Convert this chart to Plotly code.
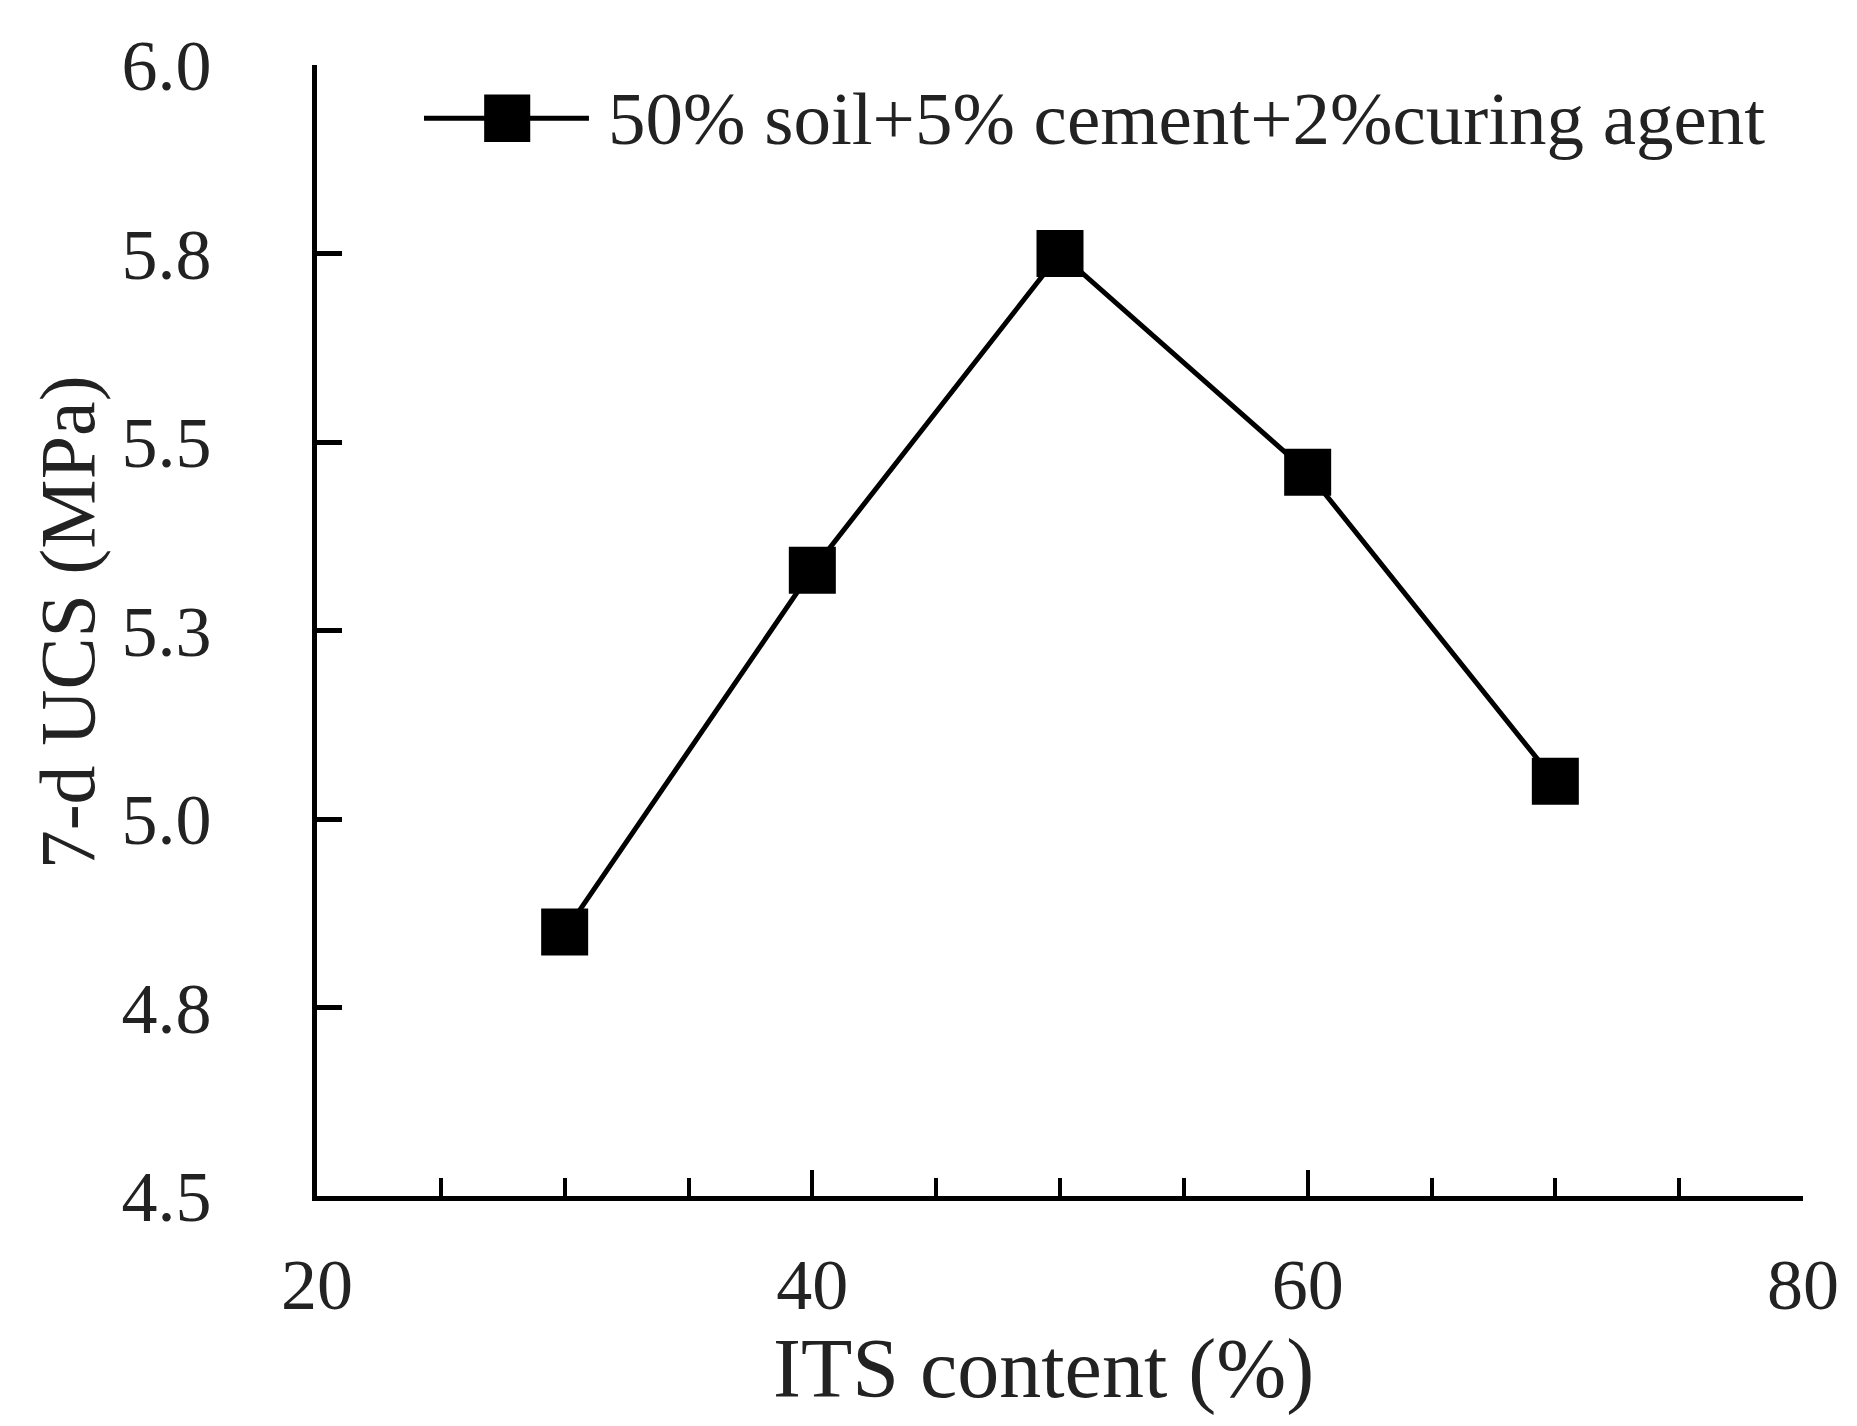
import plotly.graph_objects as go

# ITS content (%) vs 7-day UCS (MPa)
its_content = [30, 40, 50, 60, 70]
ucs_7d = [4.85, 5.33, 5.75, 5.46, 5.05]
series_name = "50% soil+5% cement+2%curing agent"

y_tickvals = [4.5, 4.75, 5.0, 5.25, 5.5, 5.75, 6.0]
y_ticktext = ["4.5", "4.8", "5.0", "5.3", "5.5", "5.8", "6.0"]
x_tickvals = [20, 40, 60, 80]

font_family = "Liberation Serif, Times New Roman, serif"
txt = "#222222"

fig = go.Figure()
fig.add_trace(go.Scatter(
    x=its_content, y=ucs_7d,
    mode="lines+markers",
    name=series_name,
    line=dict(color="black", width=5),
    marker=dict(symbol="square", size=47, color="black"),
    showlegend=False,
))

# hand-drawn legend sample (plotly caps legend marker size)
fig.add_shape(type="line", xref="paper", yref="paper",
              x0=0.072, x1=0.183, y0=0.953, y1=0.953,
              line=dict(color="black", width=5))
fig.add_shape(type="rect", xref="paper", yref="paper",
              x0=0.1125, x1=0.1435, y0=0.932, y1=0.974,
              fillcolor="black", line=dict(width=0))
fig.add_annotation(text=series_name, xref="paper", yref="paper",
                   x=0.1945, y=0.953, xanchor="left", yanchor="middle",
                   showarrow=False, font=dict(size=75, color=txt, family=font_family))

# axis titles placed as annotations for tighter positioning
fig.add_annotation(text="ITS content (%)", xref="paper", yref="paper",
                   x=0.489, y=-0.153, xanchor="center", yanchor="middle",
                   showarrow=False, font=dict(size=84, color=txt, family=font_family))
fig.add_annotation(text="7-d UCS (MPa)", xref="paper", yref="paper",
                   x=-0.168, y=0.5075, xanchor="center", yanchor="middle",
                   textangle=-90,
                   showarrow=False, font=dict(size=78, color=txt, family=font_family))

fig.update_xaxes(
    range=[20, 80], tickvals=x_tickvals,
    ticks="inside", ticklen=26, tickwidth=4, tickcolor="black",
    minor=dict(ticks="inside", dtick=5, ticklen=18, tickwidth=4, tickcolor="black"),
    showline=True, linecolor="black", linewidth=5,
    showgrid=False, zeroline=False,
    ticklabelstandoff=22,
    tickfont=dict(size=72, color=txt, family=font_family),
)
fig.update_yaxes(
    range=[4.5, 6.0], tickvals=y_tickvals, ticktext=y_ticktext,
    ticks="inside", ticklen=25, tickwidth=5, tickcolor="black",
    showline=True, linecolor="black", linewidth=5,
    showgrid=False, zeroline=False,
    ticklabelstandoff=86,
    tickfont=dict(size=72, color=txt, family=font_family),
)

fig.update_layout(
    width=1857, height=1426,
    margin=dict(l=317, r=54, t=65, b=230),
    plot_bgcolor="white", paper_bgcolor="white",
)

fig.write_html("out.html", config=dict(displayModeBar=False),
               post_script="document.body.style.margin='0';")
